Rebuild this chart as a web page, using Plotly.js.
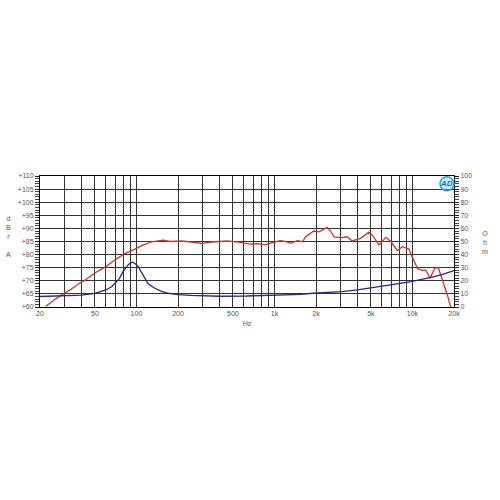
<!DOCTYPE html>
<html>
<head>
<meta charset="utf-8">
<script src="https://cdn.plot.ly/plotly-3.0.1.min.js"></script>
<style>html,body{margin:0;padding:0;background:#fff;}#chart{width:500px;height:500px;}</style>
</head>
<body>
<div id="chart"></div>
<script>
// SPL (dB) response, red
const splFreq = [22, 25, 29.5, 33, 38, 43, 50, 55, 60, 70, 83, 95, 110, 129, 141, 156, 175, 212, 250, 297, 350, 400, 454, 550, 670, 760, 862, 950, 1100, 1200, 1308, 1466, 1600, 1680, 1930, 2100, 2200, 2412, 2550, 2700, 3080, 3350, 3660, 4200, 4820, 5100, 5720, 6420, 7000, 7760, 8450, 9420, 9950, 10900, 11800, 12500, 13400, 14500, 15400, 16300, 17300, 17900, 19000];
const splDb = [60.2, 62.5, 65, 66.5, 68.8, 70.5, 73, 74.3, 75.4, 78, 80.5, 81.8, 83.5, 84.9, 85.3, 85.5, 85.0, 85.2, 84.8, 84.3, 84.8, 85.0, 85.2, 84.8, 84.0, 84.2, 83.7, 84.5, 85.3, 85.0, 84.3, 85.3, 84.9, 86.8, 89.0, 88.7, 89.2, 90.4, 89.0, 86.8, 86.5, 86.8, 85.2, 86.2, 88.5, 87.5, 83.7, 86.6, 84.9, 81.5, 83.0, 82.1, 79.2, 74.6, 74.0, 74.1, 71.0, 74.8, 75.0, 71.0, 67.5, 64.6, 59.7];

// Impedance (ohm), blue
const impFreq = [20, 25, 31, 40, 50, 60, 66, 70, 75, 80, 85, 90, 94, 98, 103, 108, 115, 122, 136, 150, 170, 200, 250, 300, 400, 630, 800, 1100, 1550, 1900, 2500, 3080, 4000, 4700, 5600, 7300, 9800, 12000, 14400, 17000, 20000];
const impOhm = [8.0, 8.2, 8.4, 9.0, 10.4, 13.0, 15.5, 18.1, 21.5, 27, 31, 33.5, 34.2, 33, 30.8, 27, 21.9, 17.5, 14.3, 12.2, 10.5, 9.5, 8.8, 8.4, 8.2, 8.4, 8.6, 9.2, 9.7, 10.5, 11.2, 11.7, 13.0, 14.3, 15.3, 17.3, 19.3, 21.2, 23.1, 25.3, 27.8];

// Axis ticks
const xTickVals = [20, 50, 100, 200, 500, 1000, 2000, 5000, 10000, 20000];
const xTickText = ['20', '50', '100', '200', '500', '1k', '2k', '5k', '10k', '20k'];
const xGridVals = [20,30,40,50,60,70,80,90,100,200,300,400,500,600,700,800,900,1000,2000,3000,4000,5000,6000,7000,8000,9000,10000,20000];
const dbTickVals = [60, 65, 70, 75, 80, 85, 90, 95, 100, 105, 110];
const dbTickText = ['+60', '+65', '+70', '+75', '+80', '+85', '+90', '+95', '+100', '+105', '+110'];
const ohmTickVals = [0, 10, 20, 30, 40, 50, 60, 70, 80, 90, 100];

const tickFont = {family: 'Liberation Sans, Arial, sans-serif', size: 7, color: '#555'};

const traces = [
  {x: impFreq, y: impOhm, yaxis: 'y2', type: 'scatter', mode: 'lines',
   line: {color: '#1f2a78', width: 1.3}, hoverinfo: 'skip'},
  {x: splFreq, y: splDb, type: 'scatter', mode: 'lines',
   line: {color: '#c0392b', width: 1.3}, hoverinfo: 'skip'}
];

const layout = {
  width: 500, height: 500,
  margin: {l: 40, r: 46, t: 176, b: 193},
  paper_bgcolor: '#fff', plot_bgcolor: '#fff',
  showlegend: false,
  xaxis: {
    type: 'log', range: [Math.log10(20), Math.log10(20000)],
    tickmode: 'array', tickvals: xTickVals, ticktext: xTickText,
    tickfont: tickFont, ticks: '', showgrid: true, gridcolor: '#333', gridwidth: 1,
    minor: {tickmode: 'array', tickvals: xGridVals, showgrid: true, gridcolor: '#333', gridwidth: 1, ticks: ''},
    showline: true, linecolor: '#000', linewidth: 1, mirror: true, zeroline: false,
    title: {text: 'Hz', font: {family: 'Liberation Sans, Arial, sans-serif', size: 7, color: '#555'}, standoff: 4}
  },
  yaxis: {
    range: [60, 110], tickmode: 'array', tickvals: dbTickVals, ticktext: dbTickText,
    tickfont: tickFont, ticks: 'outside', ticklen: 4, tickcolor: '#222',
    minor: {dtick: 1, ticks: 'outside', ticklen: 4, tickcolor: '#444', showgrid: false},
    showgrid: true, gridcolor: '#333', gridwidth: 1,
    showline: true, linecolor: '#000', linewidth: 1, mirror: true, zeroline: false
  },
  yaxis2: {
    range: [0, 100], overlaying: 'y', side: 'right',
    tickmode: 'array', tickvals: ohmTickVals,
    tickfont: tickFont, ticks: 'outside', ticklen: 4, tickcolor: '#222',
    minor: {dtick: 2, ticks: 'outside', ticklen: 4, tickcolor: '#444', showgrid: false},
    showgrid: false, showline: true, linecolor: '#000', zeroline: false
  },
  annotations: [
    {xref: 'paper', yref: 'paper', x: -0.075, y: 0.72, xanchor: 'center', yanchor: 'top',
     text: 'd<br>B<br>r<br><br>A', showarrow: false, align: 'center',
     font: {family: 'Liberation Sans, Arial, sans-serif', size: 7, color: '#555'}},
    {xref: 'paper', yref: 'paper', x: 1.075, y: 0.6, xanchor: 'center', yanchor: 'top',
     text: 'O<br>h<br>m', showarrow: false, align: 'center',
     font: {family: 'Liberation Sans, Arial, sans-serif', size: 7, color: '#555'}},
    {xref: 'paper', yref: 'paper', x: 0.983, y: 0.94, xanchor: 'center', yanchor: 'middle',
     text: '<b><i>AD</i></b>', showarrow: false,
     font: {family: 'Liberation Sans, Arial, sans-serif', size: 8, color: '#1f6fb5'}}
  ],
  shapes: [
    {type: 'circle', xref: 'paper', yref: 'paper', xsizemode: 'pixel', ysizemode: 'pixel',
     xanchor: 0.983, yanchor: 0.94, x0: -7, x1: 7, y0: -7, y1: 7,
     line: {color: '#2a9fd6', width: 1.5}, fillcolor: 'rgba(120,200,240,0.35)'}
  ]
};

Plotly.newPlot('chart', traces, layout, {staticPlot: true, displayModeBar: false});
</script>
</body>
</html>
